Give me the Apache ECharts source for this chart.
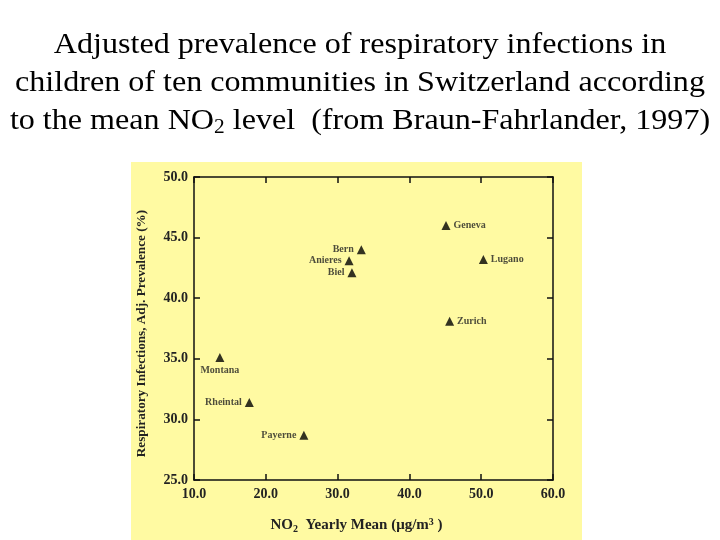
<!DOCTYPE html>
<html>
<head>
<meta charset="utf-8">
<script src="https://cdn.jsdelivr.net/npm/echarts@6/dist/echarts.min.js"></script>
<style>
html,body{margin:0;padding:0;background:#fff;}
#c{width:720px;height:540px;position:relative;}
</style>
</head>
<body>
<div id="c"></div>
<script>
// ---- data ----
const cities = ['Geneva','Bern','Anieres','Biel','Lugano','Zurich','Montana','Rheintal','Payerne'];
const no2 = [45.1, 33.3, 31.6, 32.0, 50.3, 45.6, 13.6, 17.7, 25.3];
const prevalence = [46.0, 44.0, 43.1, 42.1, 43.2, 38.1, 35.1, 31.4, 28.7];
const xTicks = [10, 20, 30, 40, 50, 60];
const yTicks = [25, 30, 35, 40, 45, 50];
const titleLines = [
  'Adjusted prevalence of respiratory infections in',
  'children of ten communities in Switzerland according',
  'to the mean NO{sub|2} level  (from Braun-Fahrlander, 1997)'
];

// label placement (style)
const labelSide = {Geneva:'right',Bern:'left',Anieres:'left',Biel:'left',Lugano:'right',Zurich:'right',Montana:'bottom',Rheintal:'left',Payerne:'left'};

const serif = '"Liberation Serif","DejaVu Serif",serif';
const chart = echarts.init(document.getElementById('c'), null, {renderer:'canvas'});

const points = cities.map((c,i)=>({
  name:c,
  value:[no2[i], prevalence[i]],
  label:{position:labelSide[c]}
}));

const xMin = xTicks[0], xMax = xTicks[xTicks.length-1];
const yMin = yTicks[0], yMax = yTicks[yTicks.length-1];

const axisCommon = {
  axisLine:{show:true,onZero:false,lineStyle:{color:'#111',width:1.5}},
  axisTick:{show:true,inside:true,length:6,lineStyle:{color:'#111',width:1.5}},
  splitLine:{show:false}
};

const titleY = [45, 83, 121];
const titleGraphics = titleLines.map((t,i)=>({
  type:'text', x:360, y:titleY[i], scaleX:1.07, z:10,
  style:{
    text:t, align:'center', verticalAlign:'middle',
    fontFamily:serif, fontSize:30, fill:'#000',
    rich:{sub:{fontFamily:serif,fontSize:20,fill:'#000',padding:[14,0,0,0]}}
  }
}));

chart.setOption({
  backgroundColor:'#ffffff',
  graphic:[{
    type:'rect', z:-10,
    shape:{x:131,y:162,width:451,height:378},
    style:{fill:'#fffaa2'}
  }].concat(titleGraphics),
  grid:{left:194,right:167,top:177,bottom:60,containLabel:false},
  xAxis:[{
    type:'value', min:xMin, max:xMax, interval:10, position:'bottom',
    ...axisCommon,
    axisLabel:{fontFamily:serif,fontWeight:'bold',fontSize:14,color:'#222',margin:7,
      formatter:v=>v.toFixed(1)},
    name:'NO{sub|2}  Yearly Mean (\u03bcg/m{sup|3} )',
    nameLocation:'middle', nameGap:37,
    nameTextStyle:{fontFamily:serif,fontWeight:'bold',fontSize:15,color:'#222',padding:[0,34,0,0],
      rich:{sub:{fontFamily:serif,fontWeight:'bold',fontSize:10,color:'#222',verticalAlign:'bottom',padding:[7,0,0,0]},
            sup:{fontFamily:serif,fontWeight:'bold',fontSize:10,color:'#222',verticalAlign:'top',padding:[0,0,7,0]}}}
  },{
    type:'value', min:xMin, max:xMax, interval:10, position:'top',
    ...axisCommon, axisLabel:{show:false}
  }],
  yAxis:[{
    type:'value', min:yMin, max:yMax, interval:5, position:'left',
    ...axisCommon,
    axisLabel:{fontFamily:serif,fontWeight:'bold',fontSize:14,color:'#222',margin:6,
      formatter:v=>v.toFixed(1)},
    name:'Respiratory Infections, Adj. Prevalence (%)',
    nameLocation:'middle', nameGap:46, nameRotate:90,
    nameTextStyle:{fontFamily:serif,fontWeight:'bold',fontSize:13.2,color:'#222',padding:[0,10,0,0]}
  },{
    type:'value', min:yMin, max:yMax, interval:5, position:'right',
    ...axisCommon, axisLabel:{show:false}
  }],
  series:[{
    type:'scatter',
    symbol:'triangle', symbolSize:9,
    itemStyle:{color:'#000'},
    data:points,
    label:{show:true, formatter:'{b}', fontFamily:serif, fontWeight:'bold', fontSize:10, color:'#222', distance:3}
  }]
});
</script>
</body>
</html>
